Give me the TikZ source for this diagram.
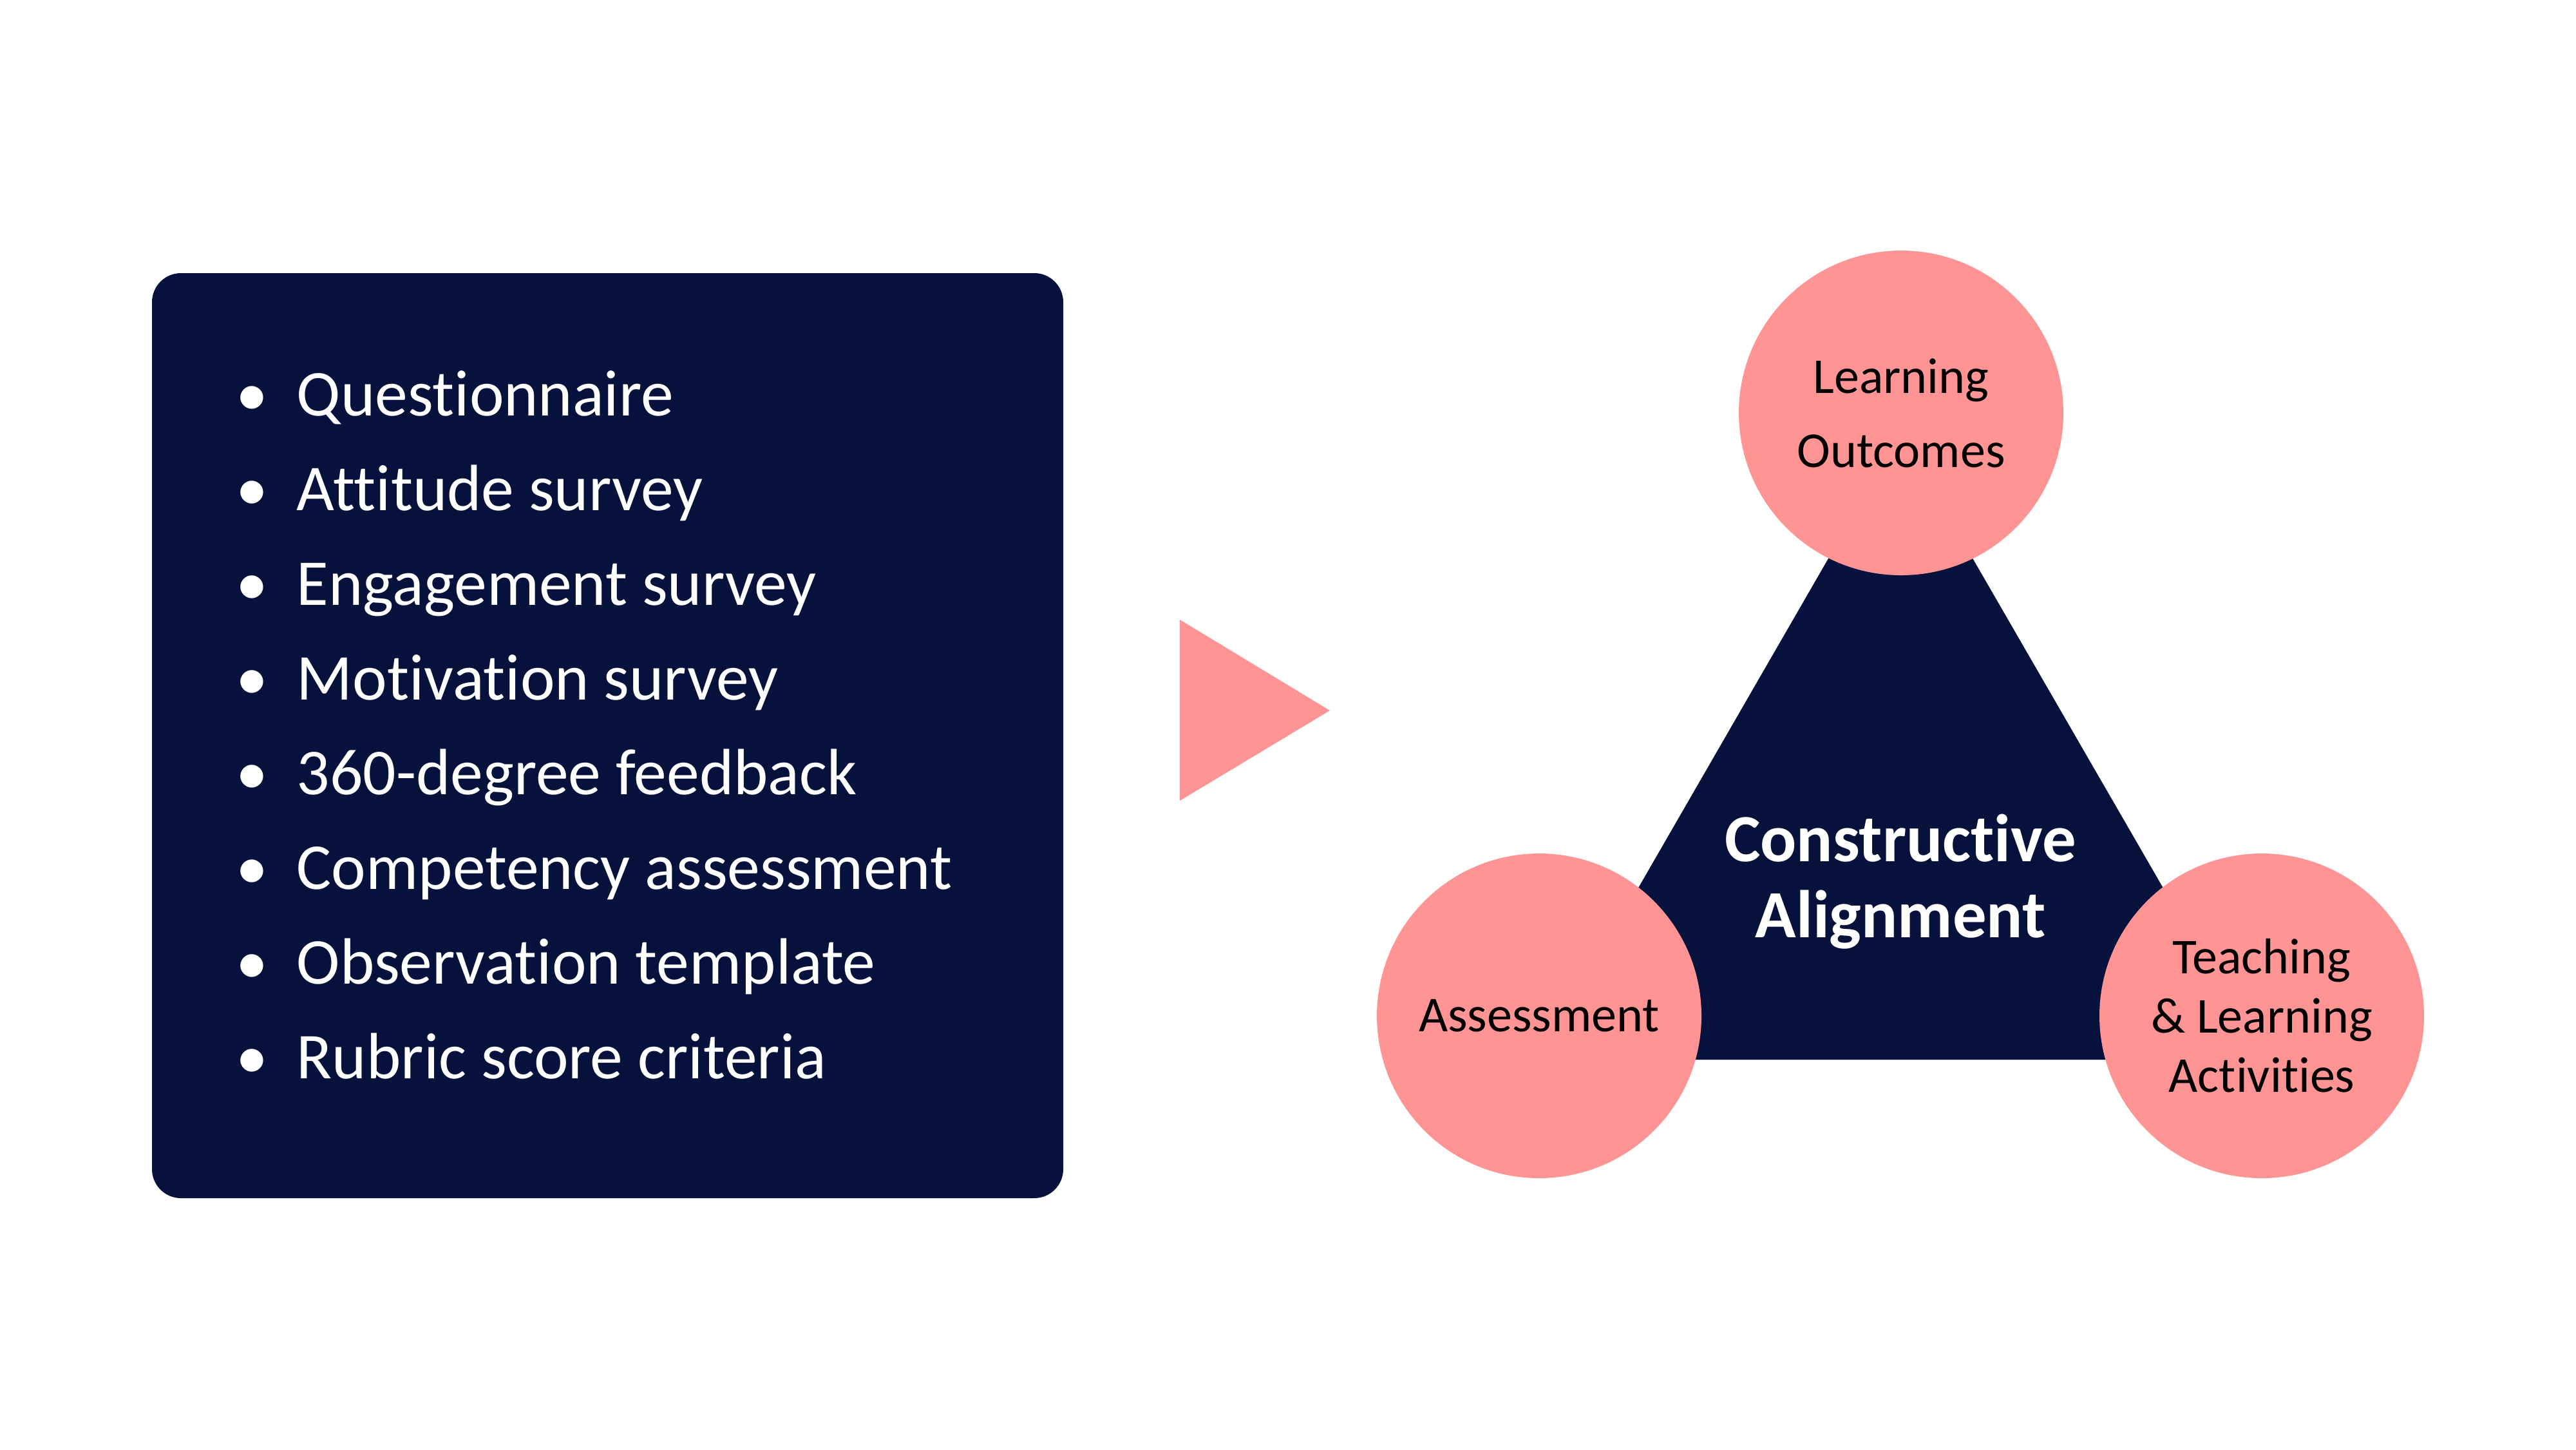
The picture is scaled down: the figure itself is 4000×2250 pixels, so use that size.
\documentclass[tikz,border=0pt]{standalone}
\usepackage{fontspec}
\setmainfont[Ligatures=NoCommon]{Carlito}
\definecolor{navy}{HTML}{06123C}
\definecolor{pinkc}{HTML}{FF9494}
\begin{document}
\begin{tikzpicture}[x=0.25pt,y=-0.25pt,
  item/.style={inner sep=0pt, text=white, font=\fontsize{25.4}{30}\selectfont},
  bul/.style={inner sep=0pt, text=white, font=\fontsize{25}{30}\selectfont},
  pcirc/.style={circle, fill=pinkc, minimum size=126pt, inner sep=0pt, align=center, text=black},
  title/.style={inner sep=0pt, align=center, text=white, font=\bfseries\fontsize{26.2}{29.5}\selectfont}
]
\useasboundingbox[fill=white] (0,0) rectangle (4000,2250);
% left panel
\node[fill=navy, rounded corners=11.25pt, minimum width=353.75pt, minimum height=359pt, inner sep=0pt] (panel) at (943.5,1142) {};
\foreach \t [count=\i] in {Questionnaire, Attitude survey, Engagement survey, Motivation survey, 360-degree feedback, Competency assessment, Observation template, Rubric score criteria} {
  \pgfmathsetmacro{\yy}{645+(\i-1)*147.1}
  \node[bul, anchor=base] (b\i) at (391,\yy) {•};
  \node[item, anchor=base west] (t\i) at (460,\yy) {\t};
}
% pink arrow
\fill[pinkc] (1832,962) -- (2065,1103) -- (1832,1243) -- cycle;
% triangle
\coordinate (ta) at (2951,673);
\coordinate (tl) at (2390,1645);
\coordinate (tr) at (3513,1645);
\fill[navy] (ta) -- (tr) -- (tl) -- cycle;
\node[title] (ca) at (2951,1369) {Constructive\\Alignment};
% circles
\node[pcirc, font=\fontsize{19.5}{28.75}\selectfont] (lo) at (2952,641) {Learning\\Outcomes};
\node[pcirc, font=\fontsize{19.5}{23}\selectfont] (as) at (2390,1577) {Assessment};
\node[pcirc, font=\fontsize{19.5}{23}\selectfont] (tla) at (3512,1577) {Teaching\\\& Learning\\Activities};
\end{tikzpicture}
\end{document}
